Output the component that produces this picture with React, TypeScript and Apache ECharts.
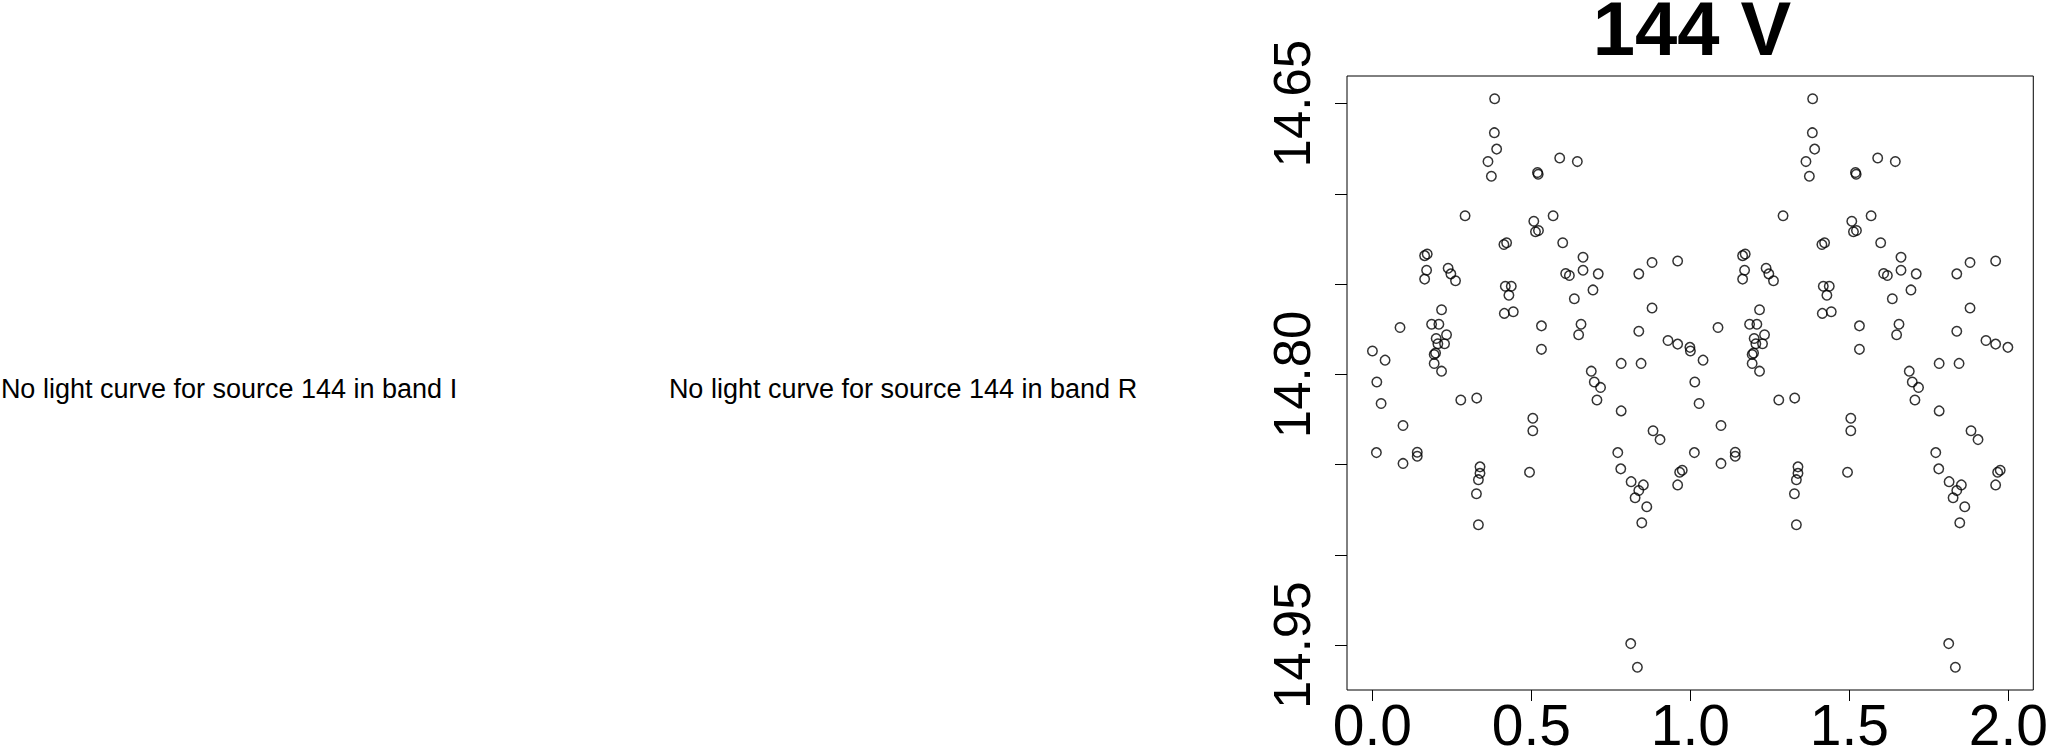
import React, { useEffect, useRef } from "react";
import * as echarts from "echarts";

const FONT = '"Liberation Sans", Arial, Helvetica, sans-serif';

// Phase (0..1) and V magnitude of each observation; plotted twice (phase and phase + 1)
const phases = [
  0.3844, 0.3835, 0.3907, 0.3634, 0.3741, 0.5191, 0.5213, 0.589, 0.6444, 0.2914,
  0.5075, 0.5128, 0.5222, 0.5683, 0.4135, 0.422, 0.5984, 0.1642, 0.1723, 0.1704,
  0.1642, 0.2381, 0.2466, 0.2613, 0.6623, 0.6078, 0.6194, 0.6623, 0.7102, 0.8377,
  0.8794, 0.9599, 0.4179, 0.4367, 0.4292, 0.4148, 0.443, 0.6936, 0.635, 0.8794,
  0.2174, 0.0868, 0.1861, 0.209, 0.2331, 0.2005, 0.2058, 0.2268, 0.1986, 0.1942,
  0.1942, 0.2174, 0.5316, 0.5316, 0.656, 0.6485, 0.8377, 0.9295, 0.9599, 0.9984,
  0.0, 0.0398, 0.0138, 0.6883, 0.6977, 0.7174, 0.7823, 0.8449, 0.0273, 0.0962,
  0.2779, 0.328, 0.0125, 0.0962, 0.141, 0.141, 0.3383, 0.3383, 0.3333, 0.3271,
  0.3333, 0.5044, 0.5044, 0.4941, 0.7061, 0.7823, 0.8825, 0.9045, 0.7716, 0.781,
  0.8136, 0.8521, 0.8377, 0.8261, 0.8628, 0.8471, 0.9599, 0.9662, 0.9743, 0.8123,
  0.8333,
];
const mags = [
  14.6473, 14.6661, 14.6752, 14.6821, 14.6902, 14.6882, 14.6891, 14.6801, 14.6821, 14.7121,
  14.7152, 14.721, 14.7203, 14.7121, 14.728, 14.7271, 14.7271, 14.7342, 14.7333, 14.7423,
  14.7472, 14.7412, 14.7443, 14.7481, 14.7351, 14.7441, 14.7452, 14.7423, 14.7443, 14.7443,
  14.738, 14.7372, 14.7512, 14.7512, 14.7561, 14.7662, 14.7653, 14.7532, 14.7581, 14.7632,
  14.7642, 14.774, 14.7722, 14.7722, 14.778, 14.7801, 14.783, 14.783, 14.7881, 14.789,
  14.7939, 14.7982, 14.7731, 14.7861, 14.7722, 14.778, 14.7761, 14.7812, 14.7832, 14.785,
  14.787, 14.7921, 14.8042, 14.7982, 14.8042, 14.8072, 14.7939, 14.7939, 14.8161, 14.8283,
  14.8142, 14.8131, 14.8433, 14.8493, 14.8431, 14.8453, 14.8512, 14.8548, 14.8583, 14.8661,
  14.8833, 14.8243, 14.8312, 14.8542, 14.8142, 14.8202, 14.8312, 14.8361, 14.8433, 14.8523,
  14.8594, 14.8612, 14.8643, 14.8683, 14.8733, 14.8822, 14.8612, 14.8542, 14.8531, 14.9491,
  14.9622,
];

const xTicks = [0, 0.5, 1.0, 1.5, 2.0];
const yTicks = [14.65, 14.7, 14.75, 14.8, 14.85, 14.9, 14.95];
const yTickLabels = [14.65, 14.8, 14.95];

const titleText = "144 V";
const missingBands = ["I", "R"];
const sourceId = 144;

export default function App() {
  const ref = useRef<HTMLDivElement>(null);

  useEffect(() => {
    if (!ref.current) return;
    const chart = echarts.init(ref.current, undefined, { renderer: "svg" });

    const points: number[][] = [];
    phases.forEach((p, i) => {
      points.push([p, mags[i]]);
      points.push([p + 1, mags[i]]);
    });
    const xs = points.map((d) => d[0]);
    const ys = points.map((d) => d[1]);
    const xMin = Math.min(...xs), xMax = Math.max(...xs);
    const yMin = Math.min(...ys), yMax = Math.max(...ys);
    const xPad = (xMax - xMin) * 0.04;
    const yPad = (yMax - yMin) * 0.04;

    chart.setOption({
      animation: false,
      backgroundColor: "#fff",
      grid: {
        left: 1347,
        right: 15,
        top: 76,
        bottom: 58,
        show: true,
        borderColor: "#000",
        borderWidth: 1,
        backgroundColor: "transparent",
        containLabel: false,
      },
      xAxis: {
        type: "value",
        min: xMin - xPad,
        max: xMax + xPad,
        axisLine: { show: false, onZero: false },
        splitLine: { show: false },
        axisTick: {
          show: true,
          length: 11,
          customValues: xTicks,
          lineStyle: { color: "#000", width: 1 },
        },
        axisLabel: {
          show: true,
          customValues: xTicks,
          formatter: (v: number) => v.toFixed(1),
          fontFamily: FONT,
          fontSize: 57,
          color: "#000",
          margin: 6,
        },
      },
      yAxis: {
        type: "value",
        inverse: true,
        min: yMin - yPad,
        max: yMax + yPad,
        axisLine: { show: false, onZero: false },
        splitLine: { show: false },
        axisTick: {
          show: true,
          length: 12,
          customValues: yTicks,
          lineStyle: { color: "#000", width: 1 },
        },
        axisLabel: {
          show: true,
          customValues: yTickLabels,
          rotate: 90,
          formatter: (v: number) => v.toFixed(2),
          fontFamily: FONT,
          fontSize: 51,
          color: "#000",
          margin: 29,
        },
      },
      series: [
        {
          type: "scatter",
          data: points,
          symbol: "circle",
          symbolSize: 9.5,
          itemStyle: {
            color: "transparent",
            borderColor: "#000",
            borderWidth: 1.5,
          },
          emphasis: { disabled: true },
        },
      ],
      graphic: [
        {
          type: "text",
          x: 1692,
          y: 28,
          style: {
            text: titleText,
            fill: "#000",
            font: `bold 76px ${FONT}`,
            textAlign: "center",
            textVerticalAlign: "middle",
            align: "center",
            verticalAlign: "middle",
          },
        },
        {
          type: "text",
          x: 229,
          y: 389,
          style: {
            text: `No light curve for source ${sourceId} in band ${missingBands[0]}`,
            fill: "#000",
            font: `27px ${FONT}`,
            textAlign: "center",
            textVerticalAlign: "middle",
            align: "center",
            verticalAlign: "middle",
          },
        },
        {
          type: "text",
          x: 903,
          y: 389,
          style: {
            text: `No light curve for source ${sourceId} in band ${missingBands[1]}`,
            fill: "#000",
            font: `27px ${FONT}`,
            textAlign: "center",
            textVerticalAlign: "middle",
            align: "center",
            verticalAlign: "middle",
          },
        },
      ],
    });

    return () => chart.dispose();
  }, []);

  return (
    <div
      ref={ref}
      style={{
        position: "fixed",
        left: 0,
        top: 0,
        width: 2051,
        height: 753,
        background: "#fff",
      }}
    />
  );
}
